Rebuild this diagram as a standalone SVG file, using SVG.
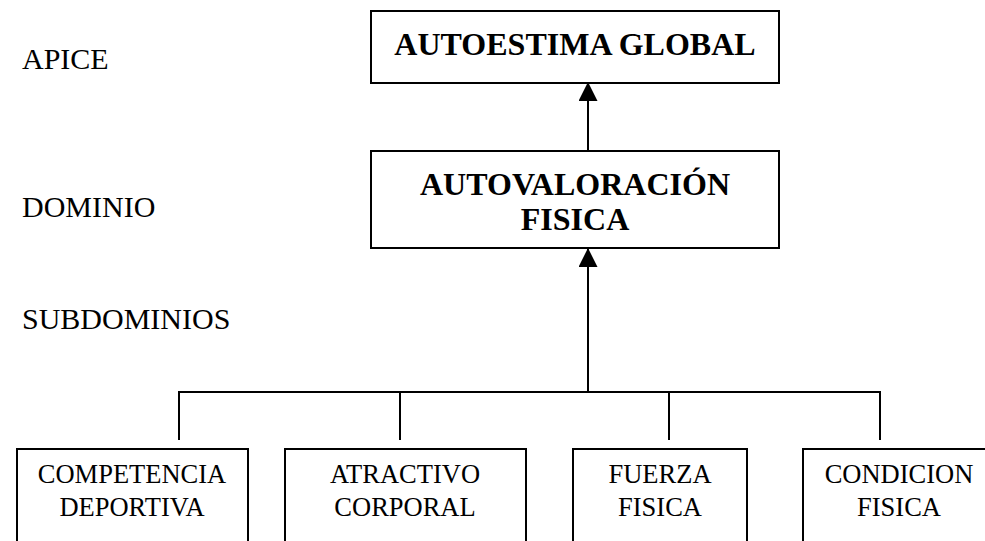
<svg xmlns="http://www.w3.org/2000/svg" width="985" height="541" viewBox="0 0 985 541">
  <style>
    .box { fill: #ffffff; stroke: #000000; stroke-width: 2; }
    .wire { fill: none; stroke: #000000; stroke-width: 2; }
    .lvl { font-family: "Liberation Serif", "Times New Roman", serif; font-size: 30px; fill: #000000; }
    .head { font-family: "Liberation Serif", "Times New Roman", serif; font-size: 32px; font-weight: bold; fill: #000000; text-anchor: middle; }
    .sub { font-family: "Liberation Serif", "Times New Roman", serif; font-size: 26.5px; fill: #000000; text-anchor: middle; }
  </style>
  <defs>
    <marker id="arrow" viewBox="0 0 20 20" refX="20" refY="10" markerWidth="20" markerHeight="19" markerUnits="userSpaceOnUse" orient="auto">
      <path d="M0,0 L20,10 L0,20 Z" fill="#000000"/>
    </marker>
  </defs>
  <rect width="985" height="541" fill="#ffffff"/>

  <!-- level labels -->
  <g id="levels">
    <text class="lvl" x="22" y="69">APICE</text>
    <text class="lvl" x="22" y="217">DOMINIO</text>
    <text class="lvl" x="22" y="329">SUBDOMINIOS</text>
  </g>

  <!-- connectors -->
  <g id="connectors">
    <line class="wire" x1="588" y1="151" x2="588" y2="82" marker-end="url(#arrow)"/>
    <line class="wire" x1="588" y1="392" x2="588" y2="248" marker-end="url(#arrow)"/>
    <polyline class="wire" points="179,440 179,392 880,392 880,440"/>
    <line class="wire" x1="400" y1="392" x2="400" y2="440"/>
    <line class="wire" x1="669" y1="392" x2="669" y2="440"/>
  </g>

  <g id="autoestima-global">
    <rect class="box" x="371" y="11" width="408" height="72"/>
    <text class="head" x="575" y="55">AUTOESTIMA GLOBAL</text>
  </g>

  <g id="autovaloracion-fisica">
    <rect class="box" x="371" y="151" width="408" height="97"/>
    <text class="head" x="575" y="195">AUTOVALORACIÓN</text>
    <text class="head" x="575" y="230">FISICA</text>
  </g>

  <g id="competencia-deportiva">
    <rect class="box" x="17" y="449" width="231" height="110"/>
    <text class="sub" x="132" y="483">COMPETENCIA</text>
    <text class="sub" x="132" y="516">DEPORTIVA</text>
  </g>

  <g id="atractivo-corporal">
    <rect class="box" x="285" y="449" width="241" height="110"/>
    <text class="sub" x="405" y="483">ATRACTIVO</text>
    <text class="sub" x="405" y="516">CORPORAL</text>
  </g>

  <g id="fuerza-fisica">
    <rect class="box" x="573" y="449" width="174" height="110"/>
    <text class="sub" x="660" y="483">FUERZA</text>
    <text class="sub" x="660" y="516">FISICA</text>
  </g>

  <g id="condicion-fisica">
    <rect class="box" x="803" y="449" width="195" height="110"/>
    <text class="sub" x="899" y="483">CONDICION</text>
    <text class="sub" x="899" y="516">FISICA</text>
  </g>
</svg>
